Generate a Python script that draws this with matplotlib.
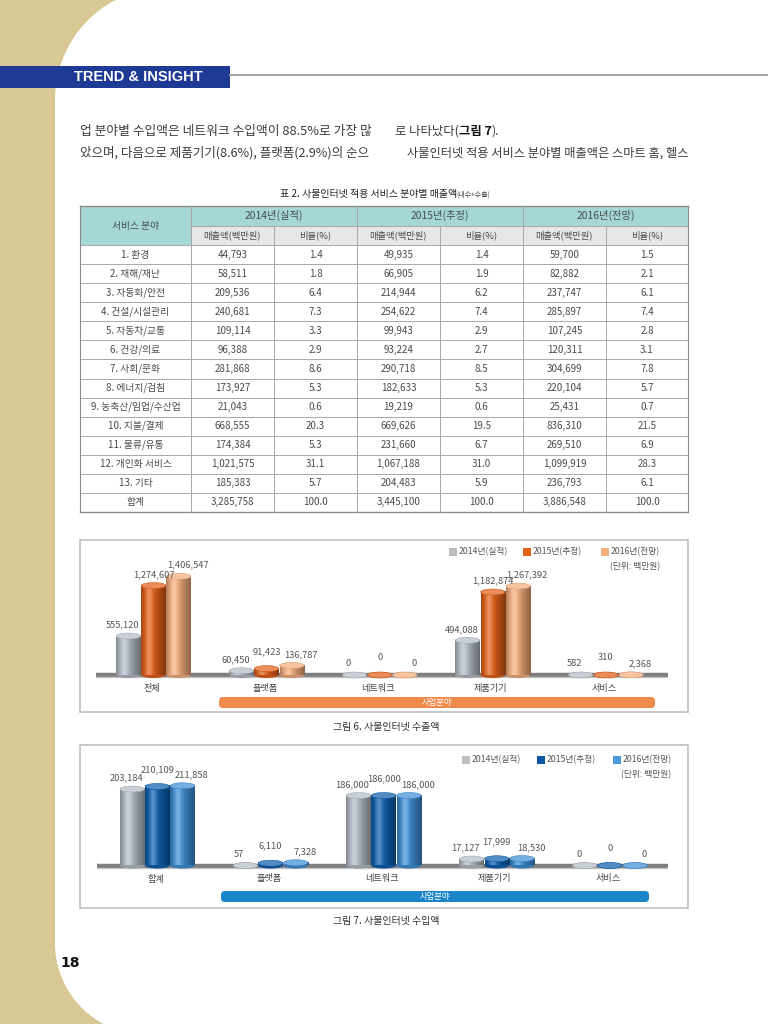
import numpy as np
import matplotlib
matplotlib.use('Agg')
import matplotlib.pyplot as plt
from matplotlib.patches import Rectangle, Ellipse, FancyBboxPatch, Polygon
from matplotlib.colors import to_rgb

plt.rcParams['font.family'] = ['Noto Sans CJK KR', 'DejaVu Sans']

# ---------------- data ----------------
body_line1_left = '업 분야별 수입액은 네트워크 수입액이 88.5%로 가장 많'
body_line2_left = '았으며, 다음으로 제품기기(8.6%), 플랫폼(2.9%)의 순으'
body_line2_right = '사물인터넷 적용 서비스 분야별 매출액은 스마트 홈, 헬스'

table_title = '표 2. 사물인터넷 적용 서비스 분야별 매출액'
table_title_note = '(내수+수출)'
first_col_header = '서비스 분야'
year_headers = ['2014년(실적)', '2015년(추정)', '2016년(전망)']
sub_headers = ['매출액(백만원)', '비율(%)']
table_rows = ['1. 환경', '2. 재해/재난', '3. 자동화/안전', '4. 건설/시설관리', '5. 자동차/교통',
              '6. 건강/의료', '7. 사회/문화', '8. 에너지/검침', '9. 농축산/임업/수산업',
              '10. 지불/결제', '11. 물류/유통', '12. 개인화 서비스', '13. 기타', '합계']
sales_2014 = [44793, 58511, 209536, 240681, 109114, 96388, 281868, 173927, 21043,
              668555, 174384, 1021575, 185383, 3285758]
ratio_2014 = [1.4, 1.8, 6.4, 7.3, 3.3, 2.9, 8.6, 5.3, 0.6, 20.3, 5.3, 31.1, 5.7, 100.0]
sales_2015 = [49935, 66905, 214944, 254622, 99943, 93224, 290718, 182633, 19219,
              669626, 231660, 1067188, 204483, 3445100]
ratio_2015 = [1.4, 1.9, 6.2, 7.4, 2.9, 2.7, 8.5, 5.3, 0.6, 19.5, 6.7, 31.0, 5.9, 100.0]
sales_2016 = [59700, 82882, 237747, 285897, 107245, 120311, 304699, 220104, 25431,
              836310, 269510, 1099919, 236793, 3886548]
ratio_2016 = [1.5, 2.1, 6.1, 7.4, 2.8, 3.1, 7.8, 5.7, 0.7, 21.5, 6.9, 28.3, 6.1, 100.0]

legend_labels = ['2014년(실적)', '2015년(추정)', '2016년(전망)']
unit_label = '(단위: 백만원)'
band_label = '사업분야'

export_cats = ['전체', '플랫폼', '네트워크', '제품기기', '서비스']
export_2014 = [555120, 60450, 0, 494088, 582]
export_2015 = [1274607, 91423, 0, 1182874, 310]
export_2016 = [1406547, 136787, 0, 1267392, 2368]
export_caption = '그림 6. 사물인터넷 수출액'

import_cats = ['합계', '플랫폼', '네트워크', '제품기기', '서비스']
import_2014 = [203184, 57, 186000, 17127, 0]
import_2015 = [210109, 6110, 186000, 17999, 0]
import_2016 = [211858, 7328, 186000, 18530, 0]
import_caption = '그림 7. 사물인터넷 수입액'

page_number = '18'

# ---------------- page ----------------
W, H = 768, 1024
fig = plt.figure(figsize=(W / 100, H / 100), dpi=100)
bg = fig.add_axes([0, 0, 1, 1])
bg.set_xlim(0, W)
bg.set_ylim(H, 0)
bg.axis('off')
renderer = fig.canvas.get_renderer()
TXT = '#3c3c3c'


def twidth(t):
    return t.get_window_extent(renderer=renderer).width


# tan side + white page with rounded corners
bg.add_patch(Rectangle((0, 0), W, H, facecolor='#dac894', edgecolor='none', zorder=0))
r_top, cx_top, cy_top = 113.0, 168.0, 100.0
phi1 = np.linspace(np.arcsin(cy_top / r_top), 0, 60)
top_arc = np.column_stack([cx_top - r_top * np.cos(phi1), cy_top - r_top * np.sin(phi1)])
phi2 = np.linspace(0, np.arcsin(81 / 92), 60)
bot_arc = np.column_stack([147 - 92 * np.cos(phi2), 943 + 92 * np.sin(phi2)])
page = np.vstack([[W, 0], top_arc, bot_arc, [W, H]])
bg.add_patch(Polygon(page, closed=True, facecolor='white', edgecolor='none', zorder=0.5))

# header band
bg.add_patch(Rectangle((0, 66), 230, 21.5, facecolor='#1f3a94', edgecolor='none', zorder=1))
bg.text(74, 77, 'TREND & INSIGHT', color='white', fontsize=10.5, fontweight='bold',
        family='Liberation Sans', ha='left', va='center', zorder=2)
bg.plot([230, W], [74.5, 74.5], color='#9c9c9c', lw=1.3, zorder=1)


def fit_text(x0, x1, y, s, size0=9.0, **kw):
    t = bg.text(x0, y, s, fontsize=size0, ha='left', va='center', **kw)
    t.set_fontsize(size0 * (x1 - x0) / twidth(t))
    return t


def seq_text(x, y, parts, size, **kw):
    for s, extra in parts:
        t = bg.text(x, y, s, fontsize=size, ha='left', va='center', **{**kw, **extra})
        x += twidth(t)


# body text
fit_text(80, 372, 131, body_line1_left, color=TXT, zorder=2)
seq_text(395, 131, [('로 나타났다(', {}), ('그림 7', {'fontweight': 'bold', 'color': '#111111'}),
                    (').', {})], 8.9, color=TXT, zorder=2)
fit_text(80, 370, 153, body_line2_left, color=TXT, zorder=2)
fit_text(407, 688, 153, body_line2_right, color=TXT, zorder=2)

# ---------------- table ----------------
t1 = bg.text(0, 194, table_title, fontsize=7.2, color='#222222', ha='left', va='center', zorder=2)
t2 = bg.text(0, 194.5, table_title_note, fontsize=5.0, color='#444444', ha='left', va='center', zorder=2)
w1, w2 = twidth(t1), twidth(t2)
x_start = 385 - (w1 + w2) / 2
t1.set_x(x_start)
t2.set_x(x_start + w1)

col_x = [80, 191, 274, 357, 440, 523, 606, 688]
hdr_y = [206, 225.5, 245]
n_rows = len(table_rows)
row_h = (512 - hdr_y[2]) / n_rows
row_y = [hdr_y[2] + i * row_h for i in range(n_rows + 1)]
TEAL = '#a5d7d7'
SUB = '#e7e7e7'
LINE = '#a8a8a8'
DARK = '#8a8a8a'

bg.add_patch(Rectangle((col_x[0], hdr_y[0]), col_x[-1] - col_x[0], hdr_y[1] - hdr_y[0],
                       facecolor=TEAL, edgecolor='none', zorder=1))
bg.add_patch(Rectangle((col_x[0], hdr_y[1]), col_x[1] - col_x[0], hdr_y[2] - hdr_y[1],
                       facecolor=TEAL, edgecolor='none', zorder=1))
bg.add_patch(Rectangle((col_x[1], hdr_y[1]), col_x[-1] - col_x[1], hdr_y[2] - hdr_y[1],
                       facecolor=SUB, edgecolor='none', zorder=1))
# horizontal lines
bg.plot([col_x[0], col_x[-1]], [hdr_y[0], hdr_y[0]], color=DARK, lw=1.0, zorder=2)
bg.plot([col_x[1], col_x[-1]], [hdr_y[1], hdr_y[1]], color=LINE, lw=0.7, zorder=2)
for y in row_y[:-1]:
    bg.plot([col_x[0], col_x[-1]], [y, y], color=LINE, lw=0.7, zorder=2)
bg.plot([col_x[0], col_x[-1]], [row_y[-1], row_y[-1]], color=DARK, lw=1.0, zorder=2)
# vertical lines
for i, x in enumerate(col_x):
    if i in (0, 7):
        bg.plot([x, x], [hdr_y[0], row_y[-1]], color=DARK, lw=0.8, zorder=2)
    elif i in (1, 3, 5):
        bg.plot([x, x], [hdr_y[0], row_y[-1]], color=LINE, lw=0.7, zorder=2)
    else:
        bg.plot([x, x], [hdr_y[1], row_y[-1]], color=LINE, lw=0.7, zorder=2)

TS = 7.0
TC = '#4a4a4a'
bg.text((col_x[0] + col_x[1]) / 2, hdr_y[1], first_col_header, fontsize=TS, color=TC,
        ha='center', va='center', zorder=3)
for g, yl in enumerate(year_headers):
    xa, xb = col_x[1 + 2 * g], col_x[3 + 2 * g]
    bg.text((xa + xb) / 2, (hdr_y[0] + hdr_y[1]) / 2, yl, fontsize=TS + 0.4, color=TC,
            ha='center', va='center', zorder=3)
    for k, sh in enumerate(sub_headers):
        xc = (col_x[1 + 2 * g + k] + col_x[2 + 2 * g + k]) / 2
        bg.text(xc, (hdr_y[1] + hdr_y[2]) / 2, sh, fontsize=TS - 0.3, color=TC,
                ha='center', va='center', zorder=3)

table_cols = [sales_2014, ratio_2014, sales_2015, ratio_2015, sales_2016, ratio_2016]
for r, name in enumerate(table_rows):
    yc = (row_y[r] + row_y[r + 1]) / 2
    bg.text((col_x[0] + col_x[1]) / 2, yc, name, fontsize=TS, color=TC,
            ha='center', va='center', zorder=3)
    for c, vals in enumerate(table_cols):
        v = vals[r]
        s = f'{v:,}' if c % 2 == 0 else f'{v:.1f}'
        bg.text((col_x[c + 1] + col_x[c + 2]) / 2, yc, s, fontsize=TS, color=TC,
                ha='center', va='center', zorder=3)

# ---------------- charts ----------------
GROUP_PX = 113.1
BAR_W = 24.5 / GROUP_PX
BAR_STEP = 25.2 / GROUP_PX


def mix(c, amount, target=(1, 1, 1)):
    c = np.array(to_rgb(c))
    return tuple(c + (np.array(target) - c) * amount)


def cyl_gradient(base, n=64):
    rgb = np.array(to_rgb(base))
    t = np.linspace(0, 1, n)
    shade = 0.80 + 0.22 * np.exp(-((t - 0.35) / 0.30) ** 2) - 0.22 * t ** 3 - 0.12 * (1 - t) ** 6
    hi = 0.30 * np.exp(-((t - 0.32) / 0.14) ** 2)
    col = np.clip(rgb[None, :] * shade[:, None], 0, 1)
    col = col + (1 - col) * hi[:, None]
    return np.clip(col, 0, 1)


def draw_chart(box, ax_px, base_px, center0_px, max_bar_px, cats, series, colors,
               legend_colors, legend_x, legend_y, unit_right, band, band_color, caption, caption_y):
    # frame
    bx0, by0, bx1, by1 = box
    bg.add_patch(Rectangle((bx0, by0), bx1 - bx0, by1 - by0, facecolor='white',
                           edgecolor='#b9b9b9', lw=1.1, zorder=1))
    left, right, top, bottom = ax_px
    ax = fig.add_axes([left / W, 1 - bottom / H, (right - left) / W, (bottom - top) / H])
    ax.axis('off')
    vmax = max(max(s) for s in series)
    pp = vmax / max_bar_px  # value per pixel
    xlo = (left - center0_px) / GROUP_PX
    xhi = (right - center0_px) / GROUP_PX
    ylo = -(bottom - base_px) * pp
    yhi = (base_px - top) * pp
    cap_h = 6.0 * pp

    # baseline
    ax.plot([xlo, xhi], [0, 0], color='#7f7f7f', lw=3.2, solid_capstyle='butt', zorder=1)
    ax.plot([xlo, xhi], [-2.2 * pp, -2.2 * pp], color='#c4c4c4', lw=1.0, zorder=1)

    n_series = len(series)
    for si, (vals, base) in enumerate(zip(series, colors)):
        grad = cyl_gradient(base)
        for gi, v in enumerate(vals):
            xc = gi + (si - (n_series - 1) / 2) * BAR_STEP
            x0, x1 = xc - BAR_W / 2, xc + BAR_W / 2
            ax.add_patch(Ellipse((xc, 0), BAR_W, cap_h, facecolor=tuple(grad[40]),
                                 edgecolor='none', zorder=2))
            if v > 0:
                ax.imshow(grad[None, :, :], extent=(x0, x1, 0, v), aspect='auto',
                          interpolation='bilinear', zorder=2.1)
            ax.add_patch(Ellipse((xc, v), BAR_W, cap_h, facecolor=mix(base, 0.28),
                                 edgecolor=mix(base, 0.1, (0, 0, 0)), lw=0.4, zorder=2.2))

    # value labels
    dx_px = [-6, 0, 9]
    for gi in range(len(cats)):
        hs = [series[si][gi] / pp for si in range(n_series)]
        for si in range(n_series):
            v = series[si][gi]
            lift = 11.0
            if si == 1 and abs(hs[1] - hs[0]) < 8 and abs(hs[1] - hs[2]) < 8:
                lift += 6
            xc = gi + (si - (n_series - 1) / 2) * BAR_STEP + dx_px[si] / GROUP_PX
            ax.text(xc, v + lift * pp, f'{v:,}', fontsize=6.7, color='#555555',
                    ha='center', va='center', zorder=3)
    # category labels
    for gi, c in enumerate(cats):
        ax.text(gi - 2 / GROUP_PX, -13.5 * pp, c, fontsize=6.6, color='#444444',
                ha='center', va='center', zorder=3)
    ax.set_xlim(xlo, xhi)
    ax.set_ylim(ylo, yhi)

    # legend
    for lab, col, lx in zip(legend_labels, legend_colors, legend_x):
        bg.add_patch(Rectangle((lx, legend_y - 4), 7.5, 7.5, facecolor=col, edgecolor='none', zorder=2))
        bg.text(lx + 9.5, legend_y, lab, fontsize=6.3, color='#555555', ha='left', va='center', zorder=2)
    bg.text(unit_right, legend_y + 15, unit_label, fontsize=6.3, color='#555555',
            ha='right', va='center', zorder=2)
    # business band
    b0, b1, byt, byb = band
    bg.add_patch(FancyBboxPatch((b0, byt), b1 - b0, byb - byt,
                                boxstyle='round,pad=0,rounding_size=4',
                                facecolor=band_color, edgecolor='none', zorder=2))
    bg.text((b0 + b1) / 2, (byt + byb) / 2, band_label, fontsize=6.0, color='white',
            ha='center', va='center', zorder=3)
    bg.text(386, caption_y, caption, fontsize=7.2, color='#333333', ha='center', va='center', zorder=2)
    return ax


draw_chart(box=(80, 540, 688, 712), ax_px=(96, 668, 548, 711), base_px=675, center0_px=153.5,
           max_bar_px=98.7, cats=export_cats, series=[export_2014, export_2015, export_2016],
           colors=['#b4bcc6', '#e2601a', '#f4ad7d'],
           legend_colors=['#bdbdbd', '#e4621b', '#f6b07f'],
           legend_x=[449, 523, 601], legend_y=552, unit_right=660,
           band=(219, 655, 697, 708), band_color='#ef8a4a',
           caption=export_caption, caption_y=727)

draw_chart(box=(80, 745, 688, 908), ax_px=(97, 668, 768, 906), base_px=865.5, center0_px=157.5,
           max_bar_px=79.7, cats=import_cats, series=[import_2014, import_2015, import_2016],
           colors=['#b4bcc6', '#0f5fae', '#3f8fd6'],
           legend_colors=['#bdbdbd', '#0b5aa8', '#4b98db'],
           legend_x=[462, 537, 613], legend_y=760, unit_right=671,
           band=(221, 649, 891, 902), band_color='#1a85c8',
           caption=import_caption, caption_y=921)

# page number
bg.text(70, 963, page_number, fontsize=10, fontweight='bold', color='#111111',
        family='DejaVu Sans', ha='center', va='center', zorder=2)

fig.savefig('out.png', dpi=100)
